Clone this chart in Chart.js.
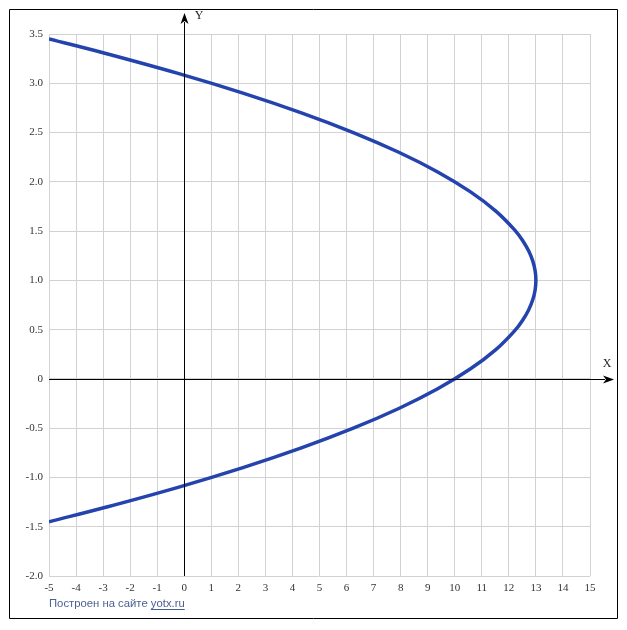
<!DOCTYPE html>
<html>
<head>
<meta charset="utf-8">
<script src="https://cdn.jsdelivr.net/npm/chart.js@4"></script>
<style>
html,body{margin:0;padding:0;background:#fff;}
canvas{display:block;}
</style>
</head>
<body>
<canvas id="c" width="627" height="630"></canvas>
<script>
// Curve points (x, y)
const curveY = [3.45, 3.3, 3.1, 2.9, 2.7, 2.5, 2.3, 2.1, 1.9, 1.7, 1.5, 1.4, 1.3, 1.2, 1.1, 1.0, 0.9, 0.8, 0.7, 0.6, 0.5, 0.3, 0.1, -0.1, -0.3, -0.5, -0.7, -0.9, -1.1, -1.3, -1.45];
const curveX = [-5.0, -2.87, -0.23, 2.17, 4.33, 6.25, 7.93, 9.37, 10.57, 11.53, 12.25, 12.52, 12.73, 12.88, 12.97, 13.0, 12.97, 12.88, 12.73, 12.52, 12.25, 11.53, 10.57, 9.37, 7.93, 6.25, 4.33, 2.17, -0.23, -2.87, -5.0];
const xRange = [-5, 15];
const yRange = [-2.0, 3.5];
const xStep = 1;
const yStep = 0.5;
const axisNames = ['X', 'Y'];
const footerText = 'Построен на сайте ';
const footerLink = 'yotx.ru';

const points = curveX.map((x, i) => ({x: x, y: curveY[i]}));

const decor = {
  id: 'decor',
  afterDraw(chart) {
    const ctx = chart.ctx;
    const xs = chart.scales.x, ys = chart.scales.y;
    const ca = chart.chartArea;
    const x0 = xs.getPixelForValue(0), y0 = ys.getPixelForValue(0);
    ctx.save();
    ctx.strokeStyle = '#000';
    ctx.fillStyle = '#000';
    ctx.lineWidth = 1;
    // Y axis
    ctx.beginPath();
    ctx.moveTo(Math.round(x0) + 0.5, ca.bottom);
    ctx.lineTo(Math.round(x0) + 0.5, 22);
    ctx.stroke();
    ctx.beginPath();
    ctx.moveTo(Math.round(x0) + 0.5, 13);
    ctx.lineTo(Math.round(x0) - 3.5, 24);
    ctx.lineTo(Math.round(x0) + 0.5, 21);
    ctx.lineTo(Math.round(x0) + 4.5, 24);
    ctx.closePath();
    ctx.fill();
    // X axis
    ctx.beginPath();
    ctx.moveTo(ca.left, Math.round(y0) + 0.5);
    ctx.lineTo(605, Math.round(y0) + 0.5);
    ctx.stroke();
    ctx.beginPath();
    ctx.moveTo(614, Math.round(y0) + 0.5);
    ctx.lineTo(603, Math.round(y0) - 3.5);
    ctx.lineTo(606, Math.round(y0) + 0.5);
    ctx.lineTo(603, Math.round(y0) + 4.5);
    ctx.closePath();
    ctx.fill();
    // axis names
    ctx.font = '12px "Liberation Serif"';
    ctx.textAlign = 'center';
    ctx.textBaseline = 'middle';
    ctx.fillStyle = '#222';
    ctx.fillText(axisNames[1], Math.round(x0) + 15, 16);
    ctx.fillText(axisNames[0], 607, Math.round(y0) - 15);
    // outer frame
    ctx.strokeStyle = '#000';
    ctx.beginPath();
    ctx.rect(9.5, 9.5, 608, 609);
    ctx.stroke();
    // footer
    ctx.font = '11.3px "Liberation Sans"';
    ctx.textAlign = 'left';
    ctx.textBaseline = 'alphabetic';
    ctx.fillStyle = '#4a5f92';
    ctx.fillText(footerText, 49, 607);
    const w = ctx.measureText(footerText).width;
    ctx.fillText(footerLink, 49 + w, 607);
    const w2 = ctx.measureText(footerLink).width;
    ctx.fillRect(49 + w, 609, w2, 1);
    ctx.restore();
  }
};

new Chart(document.getElementById('c'), {
  type: 'scatter',
  data: {
    datasets: [{
      data: points,
      showLine: true,
      borderColor: '#2443ad',
      borderWidth: 3.5,
      pointRadius: 0,
      tension: 0.4,
      fill: false
    }]
  },
  options: {
    responsive: false,
    animation: false,
    devicePixelRatio: 1,
    layout: {padding: {left: 0, top: 34, right: 37, bottom: 0}},
    plugins: {legend: {display: false}, tooltip: {enabled: false}},
    scales: {
      x: {
        type: 'linear', min: xRange[0], max: xRange[1],
        afterFit(s) { s.height = 54; },
        grid: {color: '#d2d2d2', drawTicks: false, lineWidth: 1},
        border: {display: false},
        ticks: {stepSize: xStep, padding: 6, color: '#333', font: {family: 'Liberation Serif', size: 11}, maxRotation: 0, autoSkip: false}
      },
      y: {
        type: 'linear', min: yRange[0], max: yRange[1],
        afterFit(s) { s.width = 49; },
        grid: {color: '#d2d2d2', drawTicks: false, lineWidth: 1},
        border: {display: false},
        ticks: {stepSize: yStep, padding: 6, color: '#333', font: {family: 'Liberation Serif', size: 11}, autoSkip: false,
          callback: v => v === 0 ? '0' : v.toFixed(1)}
      }
    }
  },
  plugins: [decor]
});
</script>
</body>
</html>
